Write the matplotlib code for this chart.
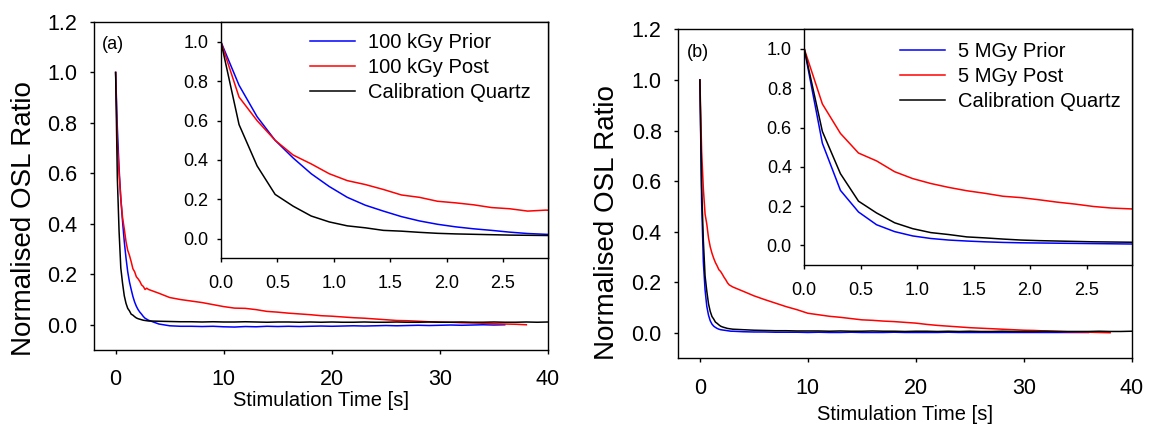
import numpy as np
import matplotlib
matplotlib.use("Agg")
import matplotlib.pyplot as plt

plt.rcParams['font.family'] = ['Liberation Sans', 'DejaVu Sans']

# ---------------- data ----------------
time_s = [0.00, 0.16, 0.32, 0.48, 0.64, 0.80, 0.96, 1.12, 1.28, 1.44, 1.60,
          1.76, 1.92, 2.08, 2.24, 2.40, 2.56, 2.72, 2.88, 3.04,
          4, 5, 6, 7, 8, 9, 10, 11, 12, 13, 14, 15, 16, 17, 18, 19, 20,
          21, 22, 23, 24, 25, 26, 27, 28, 29, 30, 31, 32, 33, 34, 35, 36,
          37, 38, 39, 40]

nan = float('nan')

# Panel (a): 100 kGy
a_prior = [1.0, 0.78, 0.62, 0.50, 0.41, 0.33, 0.265, 0.21, 0.17, 0.14, 0.112,
           0.09, 0.073, 0.06, 0.05, 0.042, 0.033, 0.026, 0.022, 0.018,
           0.003, -0.004, -0.006, -0.006, -0.007, -0.006, -0.008, -0.009, -0.007,
           -0.008, -0.006, -0.007, -0.006, -0.007, -0.006, -0.005, -0.006,
           -0.005, -0.004, -0.005, -0.004, -0.003, -0.004, -0.003, -0.002, -0.003,
           -0.002, -0.001, -0.002, -0.001, 0.000, -0.001, 0.000,
           nan, nan, nan, nan]
a_post = [1.0, 0.72, 0.60, 0.50, 0.425, 0.38, 0.33, 0.295, 0.275, 0.25, 0.222,
          0.21, 0.19, 0.182, 0.172, 0.158, 0.152, 0.14, 0.145, 0.14,
          0.125, 0.108, 0.100, 0.094, 0.088, 0.080, 0.072, 0.066, 0.065, 0.060,
          0.053, 0.050, 0.046, 0.043, 0.040, 0.036, 0.034, 0.031, 0.028, 0.026,
          0.023, 0.020, 0.017, 0.016, 0.014, 0.012, 0.011, 0.010, 0.008, 0.007,
          0.006, 0.004, 0.003, 0.002, 0.000, nan, nan]
a_calib = [1.0, 0.58, 0.37, 0.225, 0.165, 0.115, 0.085, 0.065, 0.055, 0.042,
           0.038, 0.032, 0.027, 0.024, 0.022, 0.020, 0.018, 0.017, 0.016, 0.015,
           0.014, 0.013, 0.012, 0.012, 0.011, 0.012, 0.011, 0.011, 0.012, 0.011,
           0.010, 0.011, 0.011, 0.010, 0.011, 0.010, 0.011, 0.010, 0.010, 0.011,
           0.010, 0.010, 0.011, 0.010, 0.010, 0.011, 0.010, 0.010, 0.011, 0.010,
           0.010, 0.011, 0.010, 0.010, 0.011, 0.010, 0.011]

# Panel (b): 5 MGy
b_prior = [1.0, 0.52, 0.28, 0.17, 0.105, 0.07, 0.048, 0.035, 0.027, 0.022,
           0.018, 0.015, 0.013, 0.012, 0.011, 0.010, 0.009, 0.008, 0.007, 0.007,
           0.005, 0.004, 0.004, 0.003, 0.003, 0.003, 0.002, 0.003, 0.002, 0.002,
           0.003, 0.002, 0.002, 0.002, 0.003, 0.002, 0.002, 0.002, 0.002, 0.003,
           0.002, 0.002, 0.002, 0.002, 0.002, 0.002, 0.002, 0.002, 0.002, 0.002,
           0.002, 0.002, 0.002, nan, nan, nan, nan]
b_post = [1.0, 0.72, 0.57, 0.47, 0.43, 0.375, 0.34, 0.315, 0.295, 0.278,
          0.265, 0.25, 0.243, 0.232, 0.22, 0.21, 0.198, 0.19, 0.186, 0.182,
          0.165, 0.147, 0.132, 0.118, 0.104, 0.092, 0.078, 0.072, 0.066, 0.062,
          0.057, 0.052, 0.050, 0.047, 0.045, 0.042, 0.039, 0.034, 0.030, 0.027,
          0.024, 0.021, 0.019, 0.017, 0.015, 0.013, 0.011, 0.010, 0.008, 0.007,
          0.005, 0.004, 0.003, 0.002, 0.001, nan, nan]
b_calib = [1.0, 0.58, 0.365, 0.225, 0.165, 0.115, 0.085, 0.065, 0.055, 0.043,
           0.038, 0.032, 0.027, 0.024, 0.022, 0.020, 0.018, 0.017, 0.016, 0.015,
           0.013, 0.011, 0.010, 0.009, 0.009, 0.008, 0.008, 0.008, 0.007, 0.008,
           0.007, 0.007, 0.008, 0.007, 0.007, 0.006, 0.007, 0.007, 0.006, 0.007,
           0.006, 0.007, 0.006, 0.006, 0.007, 0.006, 0.006, 0.006, 0.007, 0.006,
           0.006, 0.006, 0.006, 0.007, 0.006, 0.006, 0.007]

panels = [
    dict(tag='(a)', labels=['100 kGy Prior', '100 kGy Post', 'Calibration Quartz'],
         series=[a_prior, a_post, a_calib]),
    dict(tag='(b)', labels=['5 MGy Prior', '5 MGy Post', 'Calibration Quartz'],
         series=[b_prior, b_post, b_calib]),
]

main_yticks = [0.0, 0.2, 0.4, 0.6, 0.8, 1.0, 1.2]
main_xticks = [0, 10, 20, 30, 40]
inset_yticks = [0.0, 0.2, 0.4, 0.6, 0.8, 1.0]
inset_xticks = [0.0, 0.5, 1.0, 1.5, 2.0, 2.5]

colors = ['#0000ff', '#ff0000', '#000000']

# ---------------- layout (pixels) ----------------
W, H = 1149, 425
fig = plt.figure(figsize=(W / 100, H / 100), dpi=100)

def px_axes(x0, y0, x1, y1):
    return fig.add_axes([x0 / W, 1 - y1 / H, (x1 - x0) / W, (y1 - y0) / H])

main_boxes = [(94, 22, 548, 350), (678.3, 29.3, 1131.7, 358.3)]
inset_boxes = [(221, 22.3, 548, 258.3), (804.3, 29.3, 1131.7, 265)]
ylabel_pos = [(-0.126, 0.40), (-0.129, 0.414)]
xlabel_pos = [(0.5, -0.125), (0.5, -0.142)]
tag_pos = [(0.018, 0.93), (0.019, 0.928)]
legend_anchor = [(0.272, 0.955), (0.292, 0.948)]

def style(ax, fs, pad_y, pad_x):
    for s in ax.spines.values():
        s.set_linewidth(1.0)
    ax.tick_params(direction='out', length=3, width=1.0, labelsize=fs,
                   top=False, right=False)
    ax.tick_params(axis='y', pad=pad_y)
    ax.tick_params(axis='x', pad=pad_x)

for i, p in enumerate(panels):
    ax = px_axes(*main_boxes[i])
    for vals, c in zip(p['series'], colors):
        ax.plot(time_s, vals, color=c, lw=1.1)
    ax.set_xlim(-2, 40)
    ax.set_ylim(-0.1, 1.2)
    ax.set_xticks(main_xticks)
    ax.set_yticks(main_yticks)
    ax.set_yticklabels([f'{v:.1f}' for v in main_yticks])
    style(ax, 15.5, 9, 11)
    ax.set_ylabel('Normalised OSL Ratio', fontsize=20)
    ax.yaxis.set_label_coords(*ylabel_pos[i])
    ax.set_xlabel('Stimulation Time [s]', fontsize=14.5)
    ax.xaxis.set_label_coords(*xlabel_pos[i])
    ax.text(*tag_pos[i], p['tag'], transform=ax.transAxes, fontsize=13,
            ha='left', va='center')

    ins = px_axes(*inset_boxes[i])
    ins.set_facecolor('white')
    handles = []
    for vals, c, lab in zip(p['series'], colors, p['labels']):
        h, = ins.plot(time_s, vals, color=c, lw=1.1, label=lab)
        handles.append(h)
    ins.set_xlim(0, 2.9)
    ins.set_ylim(-0.1, 1.1)
    ins.set_xticks(inset_xticks)
    ins.set_xticklabels([f'{v:.1f}' for v in inset_xticks])
    ins.set_yticks(inset_yticks)
    ins.set_yticklabels([f'{v:.1f}' for v in inset_yticks])
    style(ins, 13, 6, 9)
    ins.legend(handles=handles, loc='upper left', bbox_to_anchor=legend_anchor[i],
               frameon=False, fontsize=14.5, borderpad=0, borderaxespad=0,
               handlelength=2.24, handletextpad=0.65, labelspacing=0.3)

fig.savefig('out.png', dpi=100)
